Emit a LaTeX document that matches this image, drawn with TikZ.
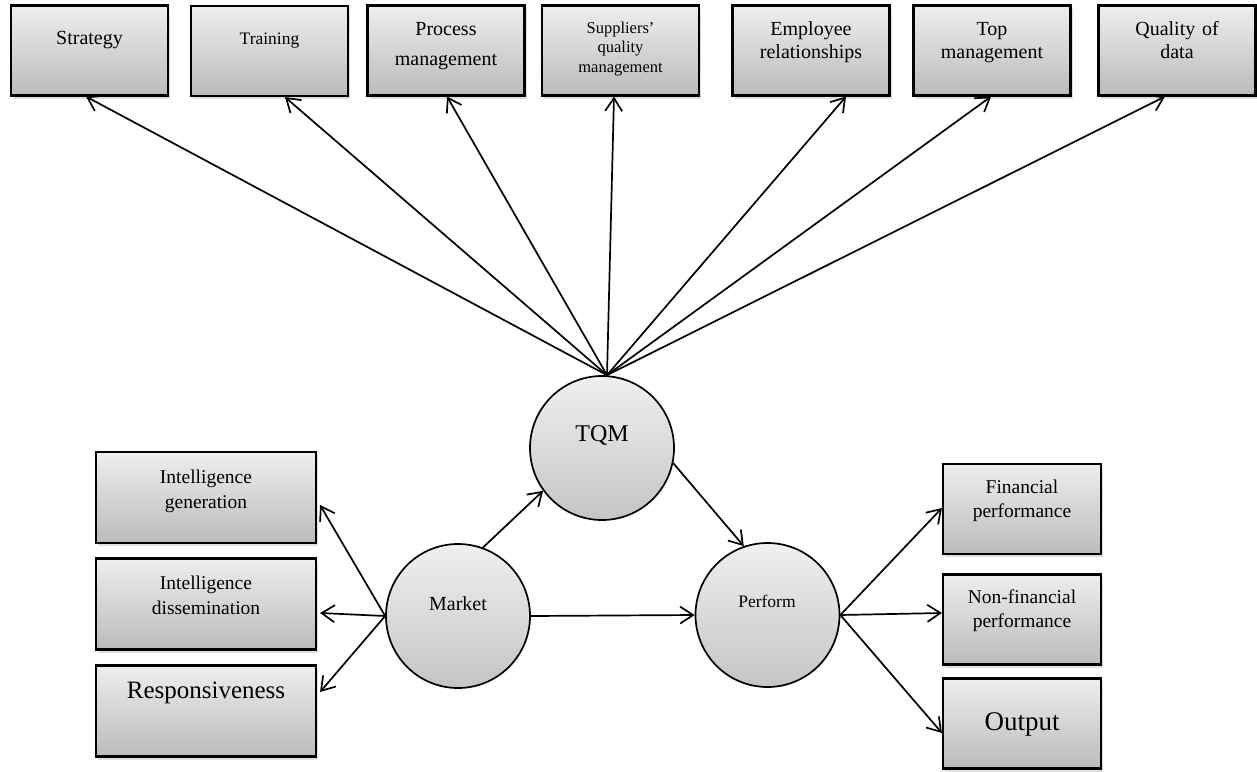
\documentclass[tikz,border=0pt]{standalone}
\usepackage{fontspec}
\setmainfont{Liberation Serif}
\usetikzlibrary{arrows.meta,shadows,calc}
\definecolor{boxtop}{HTML}{EEEEEE}
\definecolor{boxbot}{HTML}{BBBBBB}
\definecolor{ctop}{HTML}{F0F0F0}
\definecolor{cbot}{HTML}{C4C4C4}
\begin{document}
\begin{tikzpicture}[x=1pt,y=-1pt,
  box/.style={draw=black, line width=2.1pt, top color=boxtop, bottom color=boxbot, inner sep=0pt,
    drop shadow={shadow xshift=2pt, shadow yshift=-3pt, opacity=0.25}},
  topbox/.style={box, minimum width=157pt, minimum height=90pt},
  leftbox/.style={box, minimum width=220pt, minimum height=91pt},
  rightbox/.style={box, minimum width=158pt, minimum height=90pt},
  circ/.style={circle, draw=black, line width=1.7pt, top color=ctop, bottom color=cbot, inner sep=0pt, minimum size=144pt},
  txt/.style={align=center, text width=210pt, anchor=base, inner sep=0pt},
  f20/.style={font=\fontsize{20}{23}\selectfont},
  arr/.style={line width=1.7pt, -{Straight Barb[length=13pt,width=17pt]}},
]
\path[use as bounding box] (0,0) rectangle (1257,771);

% top boxes
\node[topbox] (strat) at (89.5,50.5) {};
\node[topbox] (train) at (269.5,51) {};
\node[topbox] (proc) at (446,50.5) {};
\node[topbox] (supp) at (620.5,50.5) {};
\node[topbox] (empl) at (811,50.5) {};
\node[topbox] (topm) at (992,50.5) {};
\node[topbox] (qual) at (1177,50.5) {};

\node[txt, f20] (stratT) at (89.5,44) {Strategy};
\node[txt, font=\fontsize{17.5}{21}\selectfont] (trainT) at (269.5,44) {Training};
\node[txt, font=\fontsize{20}{30}\selectfont] (procT) at (446,35) {Process\\management};
\node[txt, font=\fontsize{16.5}{19.5}\selectfont] (suppT) at (620.5,33) {Suppliers’\\quality\\management};
\node[txt, f20] (emplT) at (811,35) {Employee\\relationships};
\node[txt, f20] (topmT) at (992,35) {Top\\management};
\node[txt, f20] (qualT) at (1177,35) {Quality of\\data};

% circles
\node[circ] (tqm) at (602,448) {};
\node[circ] (mkt) at (458,616) {};
\node[circ] (perf) at (767.5,615) {};
\node[txt, font=\fontsize{24}{28}\selectfont] (tqmT) at (602,441) {TQM};
\node[txt, f20] (mktT) at (458,610) {Market};
\node[txt, font=\fontsize{17.5}{21}\selectfont] (perfT) at (767,607) {Perform};

% left boxes
\node[leftbox] (ig) at (206,497.5) {};
\node[leftbox] (id) at (206,604) {};
\node[leftbox] (resp) at (206,711) {};
\node[txt, font=\fontsize{19.5}{25}\selectfont] (igT) at (206,483) {Intelligence\\generation};
\node[txt, font=\fontsize{19.5}{25}\selectfont] (idT) at (206,589) {Intelligence\\dissemination};
\node[txt, font=\fontsize{25}{30}\selectfont] (respT) at (206,698) {Responsiveness};

% right boxes
\node[rightbox] (fin) at (1022,509) {};
\node[rightbox] (nfin) at (1022,619.5) {};
\node[rightbox] (outp) at (1022,723.5) {};
\node[txt, font=\fontsize{19.5}{24}\selectfont] (finT) at (1022,493) {Financial\\performance};
\node[txt, font=\fontsize{19.5}{24}\selectfont] (nfinT) at (1022,603) {Non-financial\\performance};
\node[txt, font=\fontsize{27}{32}\selectfont] (outT) at (1022,730) {Output};

% arrows from TQM to the top boxes
\coordinate (conv) at ([xshift=5pt]tqm.north);
\foreach \n/\dx in {strat/-3.5, train/15.5, proc/1, supp/-6.5, empl/35, topm/-1, qual/-12}
  \draw[arr] (conv) -- ([xshift=\dx pt]\n.south);

% middle arrows
\draw[arr] (mkt.70) -- (tqm.216);
\draw[arr] (tqm.-12) -- (perf.109);
\draw[arr] (mkt.east) -- (perf.west);

% market to left boxes
\draw[arr] (mkt.west) -- ([xshift=3pt,yshift=-7.5pt]ig.east);
\draw[arr] (mkt.west) -- ([xshift=3pt,yshift=-9pt]id.east);
\draw[arr] (mkt.west) -- ([xshift=3pt,yshift=19pt]resp.east);

% perform to right boxes
\draw[arr] (perf.east) -- ([yshift=1pt]fin.west);
\draw[arr] (perf.east) -- ([yshift=6.5pt]nfin.west);
\draw[arr] (perf.east) -- ([yshift=-9.5pt]outp.west);
\end{tikzpicture}
\end{document}
